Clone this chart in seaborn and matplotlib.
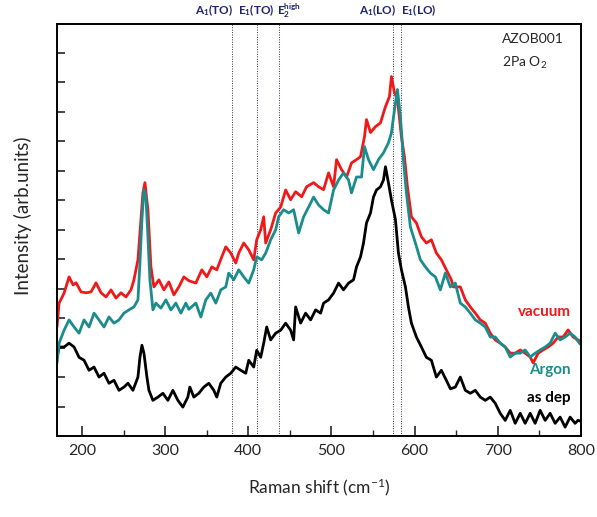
import matplotlib
matplotlib.use("Agg")
import matplotlib.pyplot as plt
import seaborn as sns
import pandas as pd

# Raman spectra of AZOB001 films (2 Pa O2): vacuum-annealed, Ar-annealed, as deposited
vac_x = [170, 172.5, 178.5, 184.5, 189.3, 192.9, 198.9, 204.9, 210.9, 216.9, 222.9, 228.9, 234.9,
         240.9, 246.9, 252.9, 258.9, 262.5, 267.3, 270.9, 273.3, 275.7, 279.3, 282.9, 286.5, 292.5,
         298.5, 304.5, 310.5, 316.5, 322.5, 328.5, 336.9, 344.1, 350.1, 356.1, 362.1, 368.1, 372.9,
         378.9, 384.9, 388.5, 394.5, 400.5, 406.5, 410.1, 414.9, 418.5, 420.9, 426.9, 432.9, 438.9,
         444.9, 450.9, 456.9, 464.1, 470.1, 478.5, 484.5, 490.5, 496.5, 502.5, 506.1, 512.1, 518.1,
         524.1, 530.1, 534.9, 539.7, 542.1, 546.9, 552.9, 558.9, 564.9, 569.7, 572.1, 575.7, 579.3,
         584.1, 587.7, 591.3, 596.1, 602.1, 608.1, 614.1, 620.1, 626.1, 632.1, 638.1, 644.1, 646.5,
         654.9, 660.9, 666.9, 672.9, 678.9, 684.9, 690.9, 696.9, 702.9, 708.9, 714.9, 720.9, 726.9,
         732.9, 738.9, 742.5, 748.5, 754.5, 760.5, 766.5, 772.5, 778.5, 784.5, 790.5, 796.4, 800]
vac_y = [3.70, 4.51, 4.85, 5.40, 5.13, 5.20, 4.89, 4.86, 4.89, 5.20, 4.86, 4.72, 4.96,
         4.68, 4.86, 4.72, 4.96, 5.30, 5.98, 7.34, 8.26, 8.60, 7.68, 5.74, 5.06, 5.30,
         4.96, 5.23, 4.79, 5.06, 5.40, 5.27, 5.19, 5.64, 5.40, 5.74, 5.64, 6.08, 6.42,
         6.21, 5.87, 6.21, 6.55, 6.32, 5.98, 6.66, 7.00, 7.44, 6.55, 7.00, 7.57, 7.77,
         8.35, 8.02, 8.29, 8.12, 8.46, 8.60, 8.46, 8.36, 8.93, 8.46, 9.38, 9.04, 8.79,
         9.27, 9.38, 9.48, 10.16, 10.74, 10.30, 10.50, 10.63, 11.18, 11.52, 12.20, 11.66, 11.42,
         10.16, 9.48, 8.46, 7.44, 7.23, 6.76, 6.55, 6.66, 6.21, 5.98, 5.64, 5.30, 5.06,
         5.06, 4.62, 4.38, 4.17, 3.94, 3.83, 3.49, 3.26, 3.15, 3.02, 2.81, 2.81, 2.92,
         2.81, 2.68, 2.48, 2.81, 2.92, 3.02, 3.15, 3.36, 3.36, 3.60, 3.36, 3.26, 3.20]

ar_x = [170, 172.5, 178.5, 184.5, 190.5, 196.5, 202.5, 208.5, 214.5, 220.5, 226.5, 232.5, 238.5,
        244.5, 250.5, 256.5, 262.5, 267.3, 269.7, 272.1, 274.5, 276.9, 279.3, 281.7, 285.3, 288.9,
        294.9, 300.9, 306.9, 312.9, 318.9, 324.9, 328.5, 336.9, 342.9, 348.9, 354.9, 360.9, 366.9,
        372.9, 376.5, 382.5, 388.5, 394.5, 400.5, 406.5, 410.1, 416.1, 420.9, 426.9, 432.9, 436.5,
        442.5, 448.5, 454.5, 460.5, 466.5, 472.5, 478.5, 484.5, 490.5, 496.5, 502.5, 508.5, 514.5,
        520.5, 524.1, 530.1, 536.1, 539.7, 544.5, 550.5, 556.5, 562.5, 568.5, 572.1, 575.7, 579.3,
        582.9, 586.5, 590.1, 594.9, 600.9, 606.9, 612.9, 618.9, 624.9, 630.9, 636.9, 642.9, 648.9,
        654.9, 660.9, 666.9, 672.9, 678.9, 684.9, 690.9, 696.9, 702.9, 708.9, 714.9, 720.9, 726.9,
        732.9, 738.9, 744.9, 750.9, 756.9, 762.9, 768.9, 774.9, 780.9, 786.9, 792.9, 798, 800]
ar_y = [2.47, 3.15, 3.59, 3.94, 3.70, 3.49, 3.94, 3.70, 4.17, 3.94, 3.70, 4.04, 3.83,
        3.94, 4.17, 4.28, 4.38, 4.62, 5.87, 7.34, 8.36, 8.12, 6.76, 5.30, 4.28, 4.51,
        4.34, 4.62, 4.28, 4.51, 4.17, 4.51, 4.30, 4.51, 4.04, 4.62, 4.85, 4.51, 4.96,
        5.06, 5.53, 5.30, 5.64, 5.40, 5.19, 5.64, 6.08, 5.98, 6.21, 6.66, 7.00, 7.44,
        7.68, 7.57, 7.68, 6.89, 7.44, 7.77, 8.11, 7.84, 7.68, 7.57, 8.35, 8.69, 8.93,
        8.69, 8.25, 8.79, 8.79, 9.82, 9.38, 9.04, 9.38, 9.61, 9.95, 10.29, 11.07, 11.76,
        10.84, 9.38, 8.25, 7.09, 6.55, 5.98, 5.74, 5.53, 5.40, 4.96, 5.53, 5.06, 5.19,
        4.51, 4.38, 4.17, 3.94, 3.83, 3.70, 3.36, 3.36, 3.15, 3.02, 2.68, 2.81, 2.81,
        2.92, 2.68, 2.81, 2.92, 3.02, 3.15, 3.49, 3.26, 3.36, 3.49, 3.36, 3.15, 3.10]

dep_x = [170, 172.5, 178.5, 184.5, 190.5, 196.5, 202.5, 208.5, 214.5, 220.5, 226.5, 232.5, 238.5,
         244.5, 250.5, 255.3, 261.3, 267.3, 269.7, 272.1, 274.5, 278.1, 280.5, 285.3, 291.3, 297.3,
         303.3, 309.3, 315.3, 321.3, 327.3, 329.7, 334.5, 340.5, 346.5, 352.5, 358.5, 362.1, 366.9,
         372.9, 378.9, 384.9, 390.9, 396.9, 400.5, 406.5, 410.1, 414.9, 418.5, 422.1, 426.9, 432.9,
         438.9, 444.9, 450.9, 454.5, 456.9, 462.9, 468.9, 474.9, 480.9, 486.9, 490.5, 496.5, 502.5,
         508.5, 514.5, 520.5, 526.5, 530.1, 534.9, 538.5, 542.1, 546.9, 550.5, 554.1, 558.9, 562.5,
         564.9, 568.5, 572.1, 576.9, 580.5, 584.1, 588.9, 592.5, 596.1, 602.1, 608.1, 614.1, 620.1,
         626.1, 632.1, 638.1, 643.0, 648.9, 654.9, 660.9, 666.9, 672.9, 678.9, 684.9, 690.9, 696.9,
         702.9, 708.9, 714.9, 720.9, 726.9, 732.9, 738.9, 744.9, 750.9, 756.9, 762.9, 768.9, 774.9,
         780.9, 786.9, 792.9, 796.4, 800]
dep_y = [2.67, 3.02, 3.02, 3.15, 3.02, 2.67, 2.57, 2.23, 2.34, 2.00, 2.13, 1.79, 1.89,
         1.55, 1.66, 1.79, 1.55, 2.00, 2.67, 3.08, 2.81, 2.00, 1.55, 1.21, 1.32, 1.45,
         1.21, 1.55, 1.21, 0.98, 1.32, 1.66, 1.32, 1.45, 1.66, 1.79, 1.55, 1.32, 1.79,
         2.00, 2.13, 2.34, 2.23, 2.13, 2.57, 2.34, 2.91, 2.67, 3.15, 3.70, 3.26, 3.49,
         3.59, 3.83, 3.59, 3.26, 4.38, 3.83, 4.17, 3.94, 4.28, 4.17, 4.51, 4.62, 4.85,
         5.19, 4.96, 5.19, 5.30, 5.74, 6.08, 6.55, 7.23, 7.57, 8.11, 8.35, 8.46, 8.69,
         9.14, 8.59, 8.01, 7.34, 6.21, 5.64, 5.06, 4.38, 3.83, 3.36, 3.02, 2.67, 2.57,
         2.00, 2.23, 1.89, 1.60, 1.66, 2.00, 1.55, 1.45, 1.55, 1.32, 1.21, 1.32, 1.11,
         0.77, 0.53, 0.87, 0.43, 0.77, 0.43, 0.77, 0.43, 0.87, 0.53, 0.77, 0.43, 0.64,
         0.30, 0.64, 0.43, 0.53, 0.50]

# Phonon mode positions (cm^-1) and their labels
mode_pos = [380, 410, 437, 574, 584]
mode_labels = [r"A$_1$(TO)", r"E$_1$(TO)", r"E$_2^{high}$", r"A$_1$(LO)", r"E$_1$(LO)"]
mode_align = ["right", "center", "left", "right", "left"]
mode_text_x = [381, 410, 435, 577, 584]

sample_name = "AZOB001"
condition = r"2Pa O$_2$"

RED = "#F01818"
TEAL = "#1A8C8C"
NAVY = "#1F2470"

sns.set_theme(style="ticks")
plt.rcParams["font.family"] = ["Lato", "DejaVu Sans"]
plt.rcParams["mathtext.fontset"] = "custom"
plt.rcParams["mathtext.rm"] = "Lato"
plt.rcParams["mathtext.it"] = "Lato"
plt.rcParams["mathtext.bf"] = "Lato:bold"
plt.rcParams["mathtext.default"] = "regular"

fig = plt.figure(figsize=(5.97, 5.17), dpi=100)
ax = fig.add_axes([0.0955, 0.1567, 0.8777, 0.7978])

df_vac = pd.DataFrame({"shift": vac_x, "intensity": vac_y})
df_ar = pd.DataFrame({"shift": ar_x, "intensity": ar_y})
df_dep = pd.DataFrame({"shift": dep_x, "intensity": dep_y})

sns.lineplot(data=df_dep, x="shift", y="intensity", color="black", lw=2.0, ax=ax,
             estimator=None, sort=False)
sns.lineplot(data=df_vac, x="shift", y="intensity", color=RED, lw=2.0, ax=ax,
             estimator=None, sort=False)
sns.lineplot(data=df_ar, x="shift", y="intensity", color=TEAL, lw=2.0, ax=ax,
             estimator=None, sort=False)

for p in mode_pos:
    ax.axvline(p, color="#333355", lw=0.7, ls=(0, (1, 1.5)), zorder=0)

for p, lab, ha in zip(mode_text_x, mode_labels, mode_align):
    ax.text(p, 1.032, lab, transform=ax.get_xaxis_transform(), ha=ha, va="center",
            fontsize=8.5, fontweight="bold", color=NAVY)

ax.text(0.849, 0.962, sample_name, transform=ax.transAxes, fontsize=10, va="center")
ax.text(0.849, 0.905, condition, transform=ax.transAxes, fontsize=10, va="center")

ax.text(0.980, 0.30, "vacuum", transform=ax.transAxes, ha="right", va="center",
        fontsize=11, fontweight="bold", color=RED)
ax.text(0.980, 0.160, "Argon", transform=ax.transAxes, ha="right", va="center",
        fontsize=11, fontweight="bold", color=TEAL)
ax.text(0.980, 0.093, "as dep", transform=ax.transAxes, ha="right", va="center",
        fontsize=11, fontweight="bold", color="black")

ax.set_xlim(170, 800)
ax.set_ylim(0, 14)
ax.set_xticks([200, 300, 400, 500, 600, 700, 800])
ax.set_xticks([250, 350, 450, 550, 650, 750], minor=True)
ax.set_yticks(range(0, 15))
ax.set_yticklabels([])
ax.tick_params(axis="x", which="major", direction="in", length=7, width=1.2,
               labelsize=11.5, pad=6, top=False)
ax.tick_params(axis="x", which="minor", direction="in", length=4, width=1.0, top=False)
ax.tick_params(axis="y", which="major", direction="in", length=6, width=1.2, right=False)

for s in ax.spines.values():
    s.set_color("black")
    s.set_linewidth(1.4)

ax.set_xlabel(r"Raman shift (cm$^{-1}$)", fontsize=12.5, labelpad=13)
ax.set_ylabel("Intensity (arb.units)", fontsize=13.5)
ax.yaxis.set_label_coords(-0.048, 0.535)

fig.savefig("out.png", dpi=100)
